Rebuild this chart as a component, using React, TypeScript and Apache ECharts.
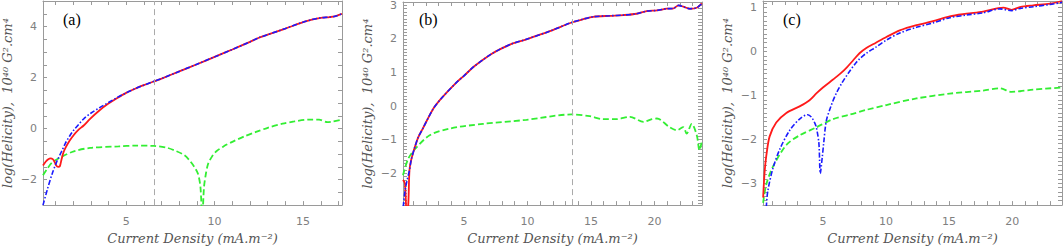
import React, { useEffect, useRef } from "react";
import * as echarts from "echarts";

// ---- Panel (a) data: [current density, log helicity] ----
const aRed: number[][] = [
  [0.3, -1.45], [0.45, -1.3], [0.6, -1.2], [0.73, -1.17], [0.85, -1.2], [0.95, -1.3], [1.05, -1.45],
  [1.15, -1.5], [1.25, -1.48], [1.35, -1.2], [1.45, -0.95], [1.57, -0.76], [1.8, -0.48], [2.04, -0.25],
  [2.3, -0.05], [2.6, 0.12], [2.96, 0.38], [3.5, 0.72], [4.0, 0.98], [4.5, 1.2], [5, 1.4], [5.5, 1.56],
  [6, 1.7], [6.57, 1.85], [7, 1.96], [8, 2.24], [9, 2.52], [10, 2.81], [11, 3.1], [12, 3.4], [12.5, 3.56],
  [13, 3.68], [14, 3.92], [15, 4.17], [15.5, 4.27], [16, 4.34], [16.5, 4.37], [16.8, 4.4], [17.2, 4.5],
];
const aBlue: number[][] = [
  [0.3, -3.0], [0.54, -2.4], [0.82, -1.77], [1.1, -1.26], [1.35, -0.9], [1.57, -0.57], [1.8, -0.3],
  [2.04, -0.06], [2.3, 0.15], [2.6, 0.38], [3, 0.6], [3.5, 0.82], [4, 1.02], [4.5, 1.22], [5, 1.4],
  [5.5, 1.56], [6, 1.7], [6.57, 1.85], [7, 1.96], [8, 2.24], [9, 2.52], [10, 2.81], [11, 3.1], [12, 3.4],
  [12.5, 3.56], [13, 3.68], [14, 3.92], [15, 4.17], [15.5, 4.27], [16, 4.34], [16.5, 4.37], [16.8, 4.4],
  [17.2, 4.5],
];
const aGreen: number[][] = [
  [0.3, -1.83], [0.54, -1.58], [0.82, -1.33], [1.35, -1.11], [2.04, -0.89], [2.96, -0.76], [4.57, -0.7],
  [5.5, -0.67], [6.57, -0.68], [7.3, -0.75], [7.85, -0.89], [8.3, -1.05], [8.6, -1.26], [8.85, -1.5],
  [9.06, -1.77], [9.2, -2.3], [9.3, -3.5], [9.4, -2.3], [9.5, -1.8], [9.63, -1.39], [9.85, -1.1],
  [10.1, -0.89], [10.5, -0.7], [11.03, -0.51], [11.7, -0.3], [12.34, -0.13], [13, 0.03], [13.84, 0.19],
  [14.5, 0.28], [15.34, 0.35], [15.9, 0.35], [16.37, 0.25], [16.7, 0.28], [17.2, 0.35],
];

// ---- Panel (b) data ----
const bRed: number[][] = [
  [0.2, -2.2], [0.35, -2.3], [0.5, -3.3], [0.62, -2.9], [0.71, -1.91], [0.85, -1.6], [1.11, -1.25],
  [1.4, -0.93], [1.76, -0.67], [2.55, -0.1], [3.2, 0.22], [4.4, 0.7], [5, 0.9], [5.7, 1.15], [6.5, 1.38],
  [7.2, 1.56], [7.82, 1.69], [8.8, 1.86], [9.92, 1.99], [11.76, 2.23], [13.48, 2.49], [14.4, 2.59],
  [15.18, 2.66], [16.5, 2.69], [17.55, 2.71], [18.6, 2.75], [19.4, 2.83], [20.2, 2.85], [20.97, 2.9],
  [21.5, 2.91], [21.9, 3.0], [22.28, 2.96], [22.8, 2.9], [23.34, 2.93], [23.74, 3.06],
];
const bBlue: number[][] = [
  [0.22, -3.0], [0.35, -2.55], [0.5, -2.25], [0.71, -1.91], [0.85, -1.6], [1.11, -1.25], [1.4, -0.93],
  [1.76, -0.67], [2.55, -0.1], [3.2, 0.22], [4.4, 0.7], [5, 0.9], [5.7, 1.15], [6.5, 1.38], [7.2, 1.56],
  [7.82, 1.69], [8.8, 1.86], [9.92, 1.99], [11.76, 2.23], [13.48, 2.49], [14.4, 2.59], [15.18, 2.66],
  [16.5, 2.69], [17.55, 2.71], [18.6, 2.75], [19.4, 2.83], [20.2, 2.85], [20.97, 2.9], [21.5, 2.91],
  [21.9, 3.0], [22.28, 2.96], [22.8, 2.9], [23.34, 2.93], [23.74, 3.06],
];
const bGreen: number[][] = [
  [0.2, -2.06], [0.6, -1.58], [1.1, -1.3], [2.3, -0.87], [3.87, -0.67], [6.5, -0.53], [9.92, -0.41],
  [13.48, -0.25], [14.9, -0.3], [15.97, -0.39], [17.0, -0.39], [18.08, -0.32], [19.13, -0.47], [19.8, -0.39],
  [20.2, -0.37], [21.2, -0.63], [21.76, -0.72], [22.28, -0.63], [22.54, -0.82], [22.94, -0.53],
  [23.34, -0.87], [23.55, -1.32], [23.74, -1.04],
];

// ---- Panel (c) data ----
const cRed: number[][] = [
  [0.26, -3.33], [0.38, -2.74], [0.51, -2.38], [0.77, -1.94], [1.3, -1.62], [2.1, -1.4], [3.15, -1.25],
  [3.94, -1.11], [4.5, -0.95], [5.0, -0.82], [5.8, -0.64], [6.4, -0.5], [6.9, -0.36], [7.4, -0.2],
  [7.9, -0.04], [8.44, 0.08], [9.2, 0.2], [10.03, 0.33], [11.09, 0.48], [12.41, 0.6], [13.73, 0.69],
  [15.05, 0.8], [16.38, 0.86], [17.7, 0.91], [19.3, 1.0], [19.95, 0.95], [20.6, 1.01], [21.67, 1.05],
  [23.0, 1.09], [23.95, 1.15],
];
const cBlue: number[][] = [
  [0.51, -3.55], [0.63, -3.18], [1.03, -2.67], [1.56, -2.24], [2.36, -1.8], [3.15, -1.54], [3.8, -1.44],
  [4.1, -1.5], [4.34, -1.62], [4.48, -1.73], [4.68, -2.09], [4.79, -2.78], [4.95, -2.4], [5.06, -2.09],
  [5.27, -1.58], [5.67, -1.22], [6.06, -0.95], [6.5, -0.72], [7.0, -0.5], [7.5, -0.3], [7.9, -0.17],
  [8.44, -0.04], [9.2, 0.1], [10.03, 0.26], [11.09, 0.42], [12.41, 0.55], [13.73, 0.65], [15.05, 0.77],
  [16.38, 0.83], [17.7, 0.88], [19.02, 0.97], [19.95, 0.93], [20.6, 0.98], [21.67, 1.02], [23.0, 1.07],
  [23.95, 1.12],
];
const cGreen: number[][] = [
  [0.26, -3.45], [0.51, -3.03], [1.03, -2.63], [2.1, -2.13], [3.15, -1.91], [4.47, -1.73], [5.8, -1.54],
  [7.12, -1.44], [8.44, -1.33], [10.03, -1.22], [12.41, -1.07], [15.05, -0.96], [17.7, -0.89],
  [19.02, -0.84], [19.95, -0.92], [21.67, -0.87], [23.95, -0.82],
];

// ---- Axis settings ----
const panelLabels = ["(a)", "(b)", "(c)"];
const xRanges = [[0.3, 17.2], [0.2, 23.75], [0.25, 23.95]];
const yRanges = [[-3, 5], [-2.95, 3.1], [-3.5, 1.15]];
const xLabelValues = [[5, 10, 15], [5, 10, 15, 20], [5, 10, 15, 20]];
const yLabelValues = [[-2, 0, 2, 4], [-2, -1, 0, 1, 2, 3], [-3, -2, -1, 0, 1]];
const yTickStep = [0.5, 0.1, 0.1];
const markX = [6.6, 13.55, null];
const xTitle = "Current Density (mA.m\u207B\u00B2)";
const yTitle = "log(Helicity),  10\u2074\u2070 G\u00B2.cm\u2074";

const gridBoxes = [
  { left: 42, width: 300 },
  { left: 403, width: 299 },
  { left: 763, width: 299 },
];

function stepValues(min: number, max: number, step: number): number[] {
  const out: number[] = [];
  const start = Math.ceil(min / step - 1e-9);
  const end = Math.floor(max / step + 1e-9);
  for (let k = start; k <= end; k++) out.push(Math.round(k * step * 1000) / 1000);
  return out;
}

const AXIS_COLOR = "#9a9a9a";
const LABEL_COLOR = "#808080";
const TITLE_COLOR = "#555";

export default function App() {
  const ref = useRef<HTMLDivElement>(null);
  useEffect(() => {
    if (!ref.current) return;
    const chart = echarts.init(ref.current, null, { renderer: "svg" });
    const panels = [
      [aRed, aBlue, aGreen],
      [bRed, bBlue, bGreen],
      [cRed, cBlue, cGreen],
    ];
    const grid: any[] = [];
    const xAxis: any[] = [];
    const yAxis: any[] = [];
    const series: any[] = [];
    const graphic: any[] = [];
    const fmt = (v: number) => String(v).replace("-", "\u2212");

    panels.forEach((p, i) => {
      const gb = gridBoxes[i];
      grid.push({ left: gb.left, width: gb.width, top: 1, height: 212 });
      const [x0, x1] = xRanges[i];
      const [y0, y1] = yRanges[i];
      const xt = stepValues(x0, x1, 1);
      const yt = stepValues(y0, y1, yTickStep[i]);
      const line = { show: true, onZero: false, lineStyle: { color: AXIS_COLOR, width: 1 } };
      const tick = (vals: number[]) => ({
        show: true, inside: true, length: 4, customValues: vals,
        lineStyle: { color: AXIS_COLOR, width: 1 },
      });
      const titleStyle = {
        color: TITLE_COLOR, fontSize: 13, fontStyle: "italic", fontFamily: "DejaVu Serif",
      };
      xAxis.push({
        gridIndex: i, type: "value", min: x0, max: x1, position: "bottom",
        axisLine: line, axisTick: tick(xt), splitLine: { show: false },
        axisLabel: {
          customValues: xLabelValues[i], color: LABEL_COLOR, fontSize: 11, margin: 11,
          fontFamily: "DejaVu Sans", formatter: fmt,
        },
        name: xTitle, nameLocation: "middle", nameGap: 22, nameTextStyle: titleStyle,
      });
      xAxis.push({
        gridIndex: i, type: "value", min: x0, max: x1, position: "top",
        axisLine: line, axisTick: tick(xt), axisLabel: { show: false }, splitLine: { show: false },
      });
      yAxis.push({
        gridIndex: i, type: "value", min: y0, max: y1, position: "left",
        axisLine: line, axisTick: tick(yt), splitLine: { show: false },
        axisLabel: {
          customValues: yLabelValues[i], color: LABEL_COLOR, fontSize: 11, margin: 6,
          fontFamily: "DejaVu Sans", formatter: fmt,
        },
        name: yTitle, nameLocation: "middle", nameGap: 29, nameRotate: 90, nameTextStyle: titleStyle,
      });
      yAxis.push({
        gridIndex: i, type: "value", min: y0, max: y1, position: "right",
        axisLine: line, axisTick: tick(yt), axisLabel: { show: false }, splitLine: { show: false },
      });
      const xi = i * 2;
      const yi = i * 2;
      const mx = markX[i];
      series.push({
        type: "line", xAxisIndex: xi, yAxisIndex: yi, data: p[2], showSymbol: false, symbol: "none",
        smooth: 0.3, clip: true,
        lineStyle: { color: "#33ee33", width: 1.8, type: [6, 3] },
        markLine: mx == null ? undefined : {
          silent: true, symbol: ["none", "none"], label: { show: false },
          lineStyle: { color: "#aaaaaa", width: 1, type: [6, 4] },
          data: [{ xAxis: mx }],
        },
      });
      series.push({
        type: "line", xAxisIndex: xi, yAxisIndex: yi, data: p[0], showSymbol: false, symbol: "none",
        smooth: 0.3, clip: true,
        lineStyle: { color: "#ff1a1a", width: 1.8, type: "solid" },
      });
      series.push({
        type: "line", xAxisIndex: xi, yAxisIndex: yi, data: p[1], showSymbol: false, symbol: "none",
        smooth: 0.3, clip: true,
        lineStyle: { color: "#1a1aff", width: 1.6, type: [5, 2, 1.5, 2] },
      });
      graphic.push({
        type: "text", left: gb.left + [21, 16, 20][i], top: 11,
        style: { text: panelLabels[i], fill: "#000", font: "16px 'Liberation Serif'" },
      });
    });

    chart.setOption({
      animation: false,
      grid, xAxis, yAxis, series, graphic,
    });
    return () => chart.dispose();
  }, []);
  return (
    <div
      ref={ref}
      style={{ position: "absolute", left: 0, top: 0, width: 1063, height: 250, background: "#fff" }}
    />
  );
}
